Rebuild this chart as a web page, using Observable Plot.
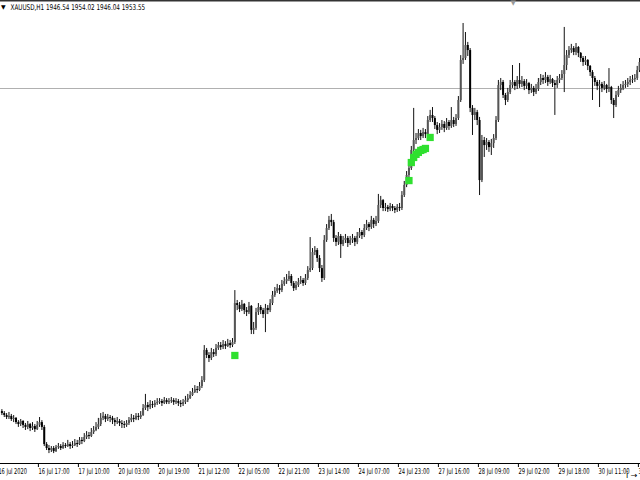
<!DOCTYPE html>
<html><head><meta charset="utf-8">
<script src="https://cdn.jsdelivr.net/npm/d3@7"></script>
<script src="https://cdn.jsdelivr.net/npm/@observablehq/plot@0.6"></script>
<style>body{margin:0;background:#fff}#chart{width:640px;height:480px;overflow:hidden}</style>
</head><body><div id="chart"></div>
<script>
const header = "XAUUSD,H1 1946.54 1954.02 1946.04 1953.55";
const bidPrice = 1953.55;
const firstOpen = 1806.7;
const closes = [
1805.8,1804.9,1804.0,1804.5,1803.1,1803.6,1801.7,1800.8,1802.2,1800.4,
1799.5,1800.8,1799.0,1799.9,1798.5,1800.4,1801.7,1799.5,1791.7,1789.9,
1789.0,1789.9,1788.5,1790.4,1790.8,1789.9,1791.3,1790.8,1791.7,1790.8,
1791.3,1792.2,1791.7,1793.6,1793.1,1794.9,1795.8,1795.4,1797.2,1798.1,
1799.5,1800.8,1803.6,1804.5,1803.1,1804.0,1803.6,1802.6,1801.7,1802.2,
1801.3,1800.8,1800.4,1801.3,1802.6,1803.6,1803.1,1804.5,1804.0,1804.9,
1808.1,1809.5,1808.5,1809.9,1809.5,1810.4,1810.8,1811.3,1810.4,1811.7,
1810.8,1811.3,1811.7,1810.8,1811.3,1810.4,1809.9,1810.8,1811.7,1812.6,
1814.0,1815.4,1816.7,1816.3,1818.1,1820.8,1834.5,1832.2,1830.8,1833.5,
1832.6,1835.4,1836.7,1835.8,1837.2,1836.3,1837.6,1836.7,1838.1,1855.8,
1854.9,1853.1,1855.4,1852.6,1851.7,1854.5,1843.6,1844.5,1851.7,1854.0,
1852.6,1850.8,1853.6,1852.6,1855.8,1859.5,1861.3,1862.6,1861.7,1864.5,
1865.8,1866.7,1868.1,1864.9,1862.6,1864.0,1865.4,1866.3,1864.9,1867.2,
1870.8,1871.7,1879.0,1879.9,1876.3,1871.7,1867.2,1884.5,1889.9,1893.6,
1892.6,1885.4,1883.6,1886.3,1882.6,1884.5,1885.4,1883.1,1884.5,1885.4,
1883.6,1886.3,1888.1,1886.7,1889.9,1891.7,1890.4,1893.6,1891.7,1893.1,
1900.4,1902.6,1899.0,1899.5,1898.5,1899.9,1899.0,1898.1,1899.5,1899.0,
1904.9,1909.5,1914.0,1917.2,1925.4,1929.9,1930.8,1933.1,1931.7,1933.5,
1932.6,1939.0,1941.3,1939.9,1936.7,1934.5,1935.8,1937.2,1935.4,1938.1,
1936.3,1939.0,1937.2,1939.9,1948.1,1966.3,1967.2,1973.1,1970.8,1944.5,
1941.3,1942.6,1939.0,1911.7,1929.9,1927.6,1929.0,1926.7,1928.5,1930.8,
1939.0,1954.9,1956.3,1950.4,1948.1,1951.7,1954.9,1956.3,1954.5,1957.2,
1955.4,1956.7,1954.5,1955.8,1952.6,1953.6,1951.7,1953.1,1956.3,1958.1,
1957.2,1958.6,1956.3,1957.6,1955.8,1954.9,1957.2,1958.1,1959.9,1964.0,
1968.5,1970.8,1971.7,1969.9,1972.2,1969.5,1967.2,1965.4,1966.3,1963.6,
1960.8,1958.1,1956.3,1954.5,1955.4,1953.6,1954.9,1953.1,1954.0,1948.1,
1945.8,1950.4,1952.6,1953.6,1954.9,1955.4,1956.3,1957.2,1957.6,1958.1,
1961.7,1965.4];
const highs = [
1807.6,1806.7,1805.8,1806.3,1805.4,1804.9,1804.0,1802.6,1803.1,1802.6,
1801.3,1802.2,1801.3,1801.7,1800.8,1802.2,1804.0,1802.6,1800.4,1792.6,
1791.3,1790.8,1790.8,1791.3,1792.2,1791.7,1792.6,1792.2,1793.6,1792.6,
1793.1,1794.0,1793.6,1794.9,1794.9,1796.7,1797.6,1797.2,1799.0,1799.9,
1801.7,1803.6,1805.8,1806.3,1805.4,1805.4,1804.9,1804.5,1803.6,1804.0,
1803.1,1802.6,1802.2,1802.6,1804.0,1805.4,1804.9,1805.8,1805.8,1806.7,
1809.9,1814.5,1810.8,1811.7,1811.3,1811.7,1812.6,1812.6,1812.2,1813.1,
1812.6,1812.6,1813.1,1812.6,1812.6,1812.2,1811.7,1812.2,1813.6,1814.5,
1815.8,1817.2,1818.5,1818.1,1819.9,1822.6,1836.7,1835.4,1833.5,1835.4,
1834.9,1837.2,1838.1,1838.1,1839.0,1838.5,1839.5,1839.0,1839.9,1861.7,
1857.2,1856.3,1857.2,1855.8,1854.0,1856.3,1854.9,1847.2,1853.6,1855.8,
1854.9,1853.6,1855.4,1854.9,1857.6,1861.3,1863.1,1864.5,1864.0,1866.3,
1867.6,1869.0,1870.4,1869.0,1865.8,1865.8,1867.2,1868.1,1867.2,1869.0,
1872.6,1885.8,1880.8,1881.7,1880.8,1877.6,1873.1,1886.7,1891.7,1895.4,
1896.3,1893.6,1886.7,1888.1,1887.2,1886.3,1887.2,1886.3,1886.3,1887.2,
1886.3,1888.1,1889.9,1889.0,1891.7,1893.6,1892.6,1895.4,1894.5,1895.4,
1905.4,1904.5,1903.1,1901.3,1900.4,1901.3,1900.8,1899.9,1900.8,1901.3,
1906.7,1911.3,1915.8,1919.5,1927.2,1944.5,1933.1,1934.9,1934.5,1935.4,
1934.9,1940.8,1943.6,1944.9,1940.8,1938.1,1937.6,1939.0,1938.5,1939.9,
1939.0,1944.9,1940.4,1941.7,1949.9,1968.5,1983.1,1979.0,1974.5,1971.7,
1945.8,1944.5,1943.6,1940.4,1932.2,1931.3,1930.8,1929.9,1930.4,1932.6,
1940.8,1957.2,1958.1,1957.2,1951.3,1953.6,1957.2,1964.0,1957.2,1959.0,
1964.9,1959.0,1957.6,1957.6,1956.3,1955.4,1954.5,1955.4,1958.1,1959.9,
1959.5,1960.8,1959.5,1959.5,1958.1,1957.2,1959.0,1959.9,1961.7,1981.3,
1970.8,1972.6,1973.6,1972.6,1974.0,1972.6,1969.9,1968.1,1968.1,1966.7,
1964.0,1961.7,1959.0,1957.2,1957.2,1956.3,1956.7,1955.4,1962.6,1954.5,
1949.0,1952.2,1954.5,1955.4,1956.7,1957.2,1958.1,1959.0,1959.5,1959.9,
1963.6,1967.2];
const lows = [
1804.9,1804.0,1803.1,1803.1,1802.2,1801.7,1800.8,1799.5,1799.9,1799.0,
1798.1,1798.5,1797.6,1798.1,1797.2,1798.1,1799.5,1798.1,1790.8,1789.0,
1787.6,1788.1,1787.6,1788.1,1789.5,1789.0,1789.5,1789.9,1790.4,1789.5,
1789.9,1790.8,1790.4,1791.3,1791.7,1792.6,1794.0,1794.0,1794.9,1796.3,
1797.6,1798.5,1799.9,1802.6,1801.7,1802.2,1801.7,1800.8,1799.9,1800.8,
1799.9,1799.0,1799.0,1799.5,1800.4,1801.7,1801.7,1802.6,1802.6,1803.1,
1804.5,1807.2,1806.7,1807.6,1808.1,1808.5,1809.5,1809.9,1809.0,1809.9,
1809.9,1809.9,1810.4,1809.5,1809.9,1809.0,1808.5,1809.0,1809.9,1810.8,
1812.2,1813.6,1814.9,1814.9,1815.8,1817.2,1819.9,1830.8,1829.0,1829.9,
1831.3,1831.7,1834.5,1834.5,1834.9,1834.9,1835.8,1835.4,1835.8,1837.2,
1852.6,1851.7,1852.2,1850.8,1849.9,1850.8,1841.7,1841.7,1843.6,1850.4,
1850.8,1849.0,1842.6,1850.8,1851.7,1854.9,1858.6,1860.4,1859.9,1860.8,
1863.6,1864.5,1865.8,1863.6,1861.3,1861.7,1863.1,1864.5,1863.6,1864.0,
1866.3,1869.9,1870.8,1877.6,1874.5,1869.9,1865.4,1866.3,1883.6,1889.0,
1890.8,1883.6,1881.7,1882.2,1876.3,1881.7,1883.1,1881.3,1882.2,1883.1,
1881.7,1882.6,1885.4,1884.9,1885.8,1889.0,1888.5,1889.5,1889.9,1890.8,
1892.2,1899.0,1897.6,1897.6,1897.2,1897.6,1897.6,1896.7,1897.2,1897.6,
1898.1,1904.0,1908.5,1912.6,1916.3,1924.5,1928.1,1929.9,1929.9,1930.8,
1930.8,1931.7,1938.1,1938.1,1934.9,1932.6,1933.1,1934.5,1933.5,1934.5,
1934.5,1935.4,1935.8,1936.3,1939.0,1947.2,1964.5,1966.3,1968.1,1942.6,
1932.2,1939.0,1936.7,1904.9,1910.8,1922.2,1925.4,1924.5,1923.1,1926.3,
1929.9,1938.1,1952.6,1949.0,1945.8,1947.2,1950.8,1953.6,1952.6,1953.1,
1953.6,1954.0,1952.6,1953.1,1950.8,1951.3,1949.9,1950.8,1952.2,1954.9,
1955.4,1955.8,1954.5,1955.4,1954.0,1941.3,1953.6,1955.8,1957.2,1951.7,
1961.7,1967.2,1969.5,1968.5,1968.5,1967.6,1965.4,1963.6,1964.0,1961.7,
1959.0,1948.1,1954.5,1952.6,1944.9,1951.7,1952.6,1951.3,1951.7,1946.3,
1939.9,1944.9,1949.5,1951.3,1952.6,1953.6,1954.0,1954.9,1955.8,1956.3,
1957.2,1960.8];
const tickIdx = [-2,15,32,49,66,83,100,117,134,151,168,185,202,219,236,253,270];
const tickLabels = ["16 Jul 2020","16 Jul 17:00","17 Jul 10:00","20 Jul 03:00","20 Jul 19:00","21 Jul 12:00","22 Jul 05:00","22 Jul 21:00","23 Jul 14:00","24 Jul 07:00","24 Jul 23:00","27 Jul 16:00","28 Jul 09:00","29 Jul 02:00","29 Jul 18:00","30 Jul 11:00","31 Jul 04:00"];
const signalIdx = [99,173,174,175,176,177,178,179,180,182];
const signalPrice = [1832.2,1911.7,1919.9,1922.2,1923.6,1924.5,1925.4,1925.8,1926.3,1931.3];

const bars = closes.map((c, i) => ({i, o: i ? closes[i - 1] : firstOpen, c, h: highs[i], l: lows[i]}));
const up = bars.filter(d => d.c >= d.o);
const down = bars.filter(d => d.c < d.o);
const signals = signalIdx.map((i, k) => ({i, p: signalPrice[k]}));
const labelOf = new Map(tickIdx.map((t, k) => [t, tickLabels[k]]));

const chart = Plot.plot({
  width: 640, height: 480,
  marginTop: 0, marginRight: 0, marginBottom: 17, marginLeft: 0,
  style: {background: "#fff", fontFamily: "DejaVu Sans", fontSize: "8px", color: "#000"},
  x: {domain: [-0.595, 271.4], axis: null},
  y: {domain: [1783.1, 1993.55], axis: null},
  marks: [
    Plot.ruleY([bidPrice], {stroke: "#b0b0b0", strokeWidth: 1}),
    Plot.ruleX(bars, {x: "i", y1: "l", y2: "h", stroke: "#111", strokeWidth: 1}),
    Plot.ruleX(up, {x: "i", y1: "o", y2: "c", stroke: "#555", strokeWidth: 2}),
    Plot.ruleX(down, {x: "i", y1: "o", y2: "c", stroke: "#000", strokeWidth: 2}),
    Plot.dot(signals, {x: "i", y: "p", symbol: "square", r: 4.1, fill: "#2fe02f", stroke: "none"}),
    Plot.frame({anchor: "bottom", stroke: "#000"}),
    Plot.frame({anchor: "top", stroke: "#333", strokeWidth: 2}),
    Plot.axisX({ticks: tickIdx, tickFormat: d => labelOf.get(d), tickSize: 4, tickPadding: 1,
      textAnchor: "start", dx: 1.2, fontSize: 8, stroke: "#000"}),
    Plot.text([header], {frameAnchor: "top-left", dx: 10, dy: 4, textAnchor: "start", lineAnchor: "top", fontSize: 8, fill: "#000"}),
    Plot.text(["▼"], {frameAnchor: "top-left", dx: 0.5, dy: 4.5, textAnchor: "start", lineAnchor: "top", fontSize: 6, fill: "#000"}),
    Plot.text(["▼"], {frameAnchor: "top-left", dx: 510, dy: 0, textAnchor: "start", lineAnchor: "top", fontSize: 7, fill: "#999"})
  ]
});
document.getElementById("chart").appendChild(chart);

// Narrow the glyphs horizontally around each text's own left edge,
// like the compressed terminal font; positions are left untouched.
function squeeze(el, target) {
  const b = el.getBBox();
  if (!b.width) return;
  const s = target / b.width;
  const t = el.getAttribute("transform") || "";
  el.setAttribute("transform", `${t} translate(${b.x},0) scale(${s},1) translate(${-b.x},0)`);
}
d3.select(chart).selectAll("text").each(function() {
  const s = this.textContent;
  if (s === header) squeeze(this, 135);
  else if (tickLabels.includes(s)) squeeze(this, s.length * 2.6);
});
</script></body></html>
